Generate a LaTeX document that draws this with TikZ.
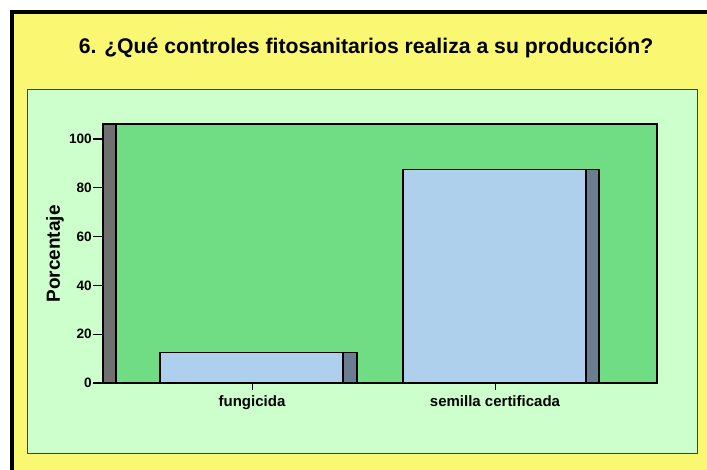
\documentclass[tikz,border=0pt]{standalone}
\usepackage{fontspec}
\setmainfont{Liberation Sans}
\definecolor{outeryellow}{RGB}{250,247,115}
\definecolor{panelgreen}{RGB}{204,255,204}
\definecolor{plotgreen}{RGB}{112,221,132}
\definecolor{barblue}{RGB}{174,208,236}
\definecolor{barside}{RGB}{107,125,145}
\definecolor{wallgrey}{RGB}{112,112,112}
\begin{document}
\begin{tikzpicture}[x=1pt,y=-1pt,
  ticklab/.style={anchor=east,font=\bfseries\fontsize{13.6}{15}\selectfont,inner sep=0pt},
  catlab/.style={anchor=north,font=\bfseries\fontsize{15}{17}\selectfont,inner sep=0pt},
  boxline/.style={draw=black,line width=1.2pt}]
\useasboundingbox (0,0) rectangle (707,470);
\fill[white] (0,0) rectangle (707,470);
\fill[black] (10,10) rectangle (707,470);
\fill[outeryellow] (14,14) rectangle (707,470);
\node[font=\bfseries\fontsize{21.2}{24}\selectfont] (title) at (366,48) {6. ¿Qué controles fitosanitarios realiza a su producción?};
\draw[fill=panelgreen,draw=black!75,line width=1pt] (27,90) rectangle (697,453);
\draw[boxline,fill=plotgreen] (103,124) rectangle (657,383);
\draw[boxline,fill=wallgrey] (103,124) rectangle (116,383);
% y ticks
\foreach \v/\yy in {0/383,20/334.2,40/285.4,60/236.6,80/187.8,100/139}{
  \draw[line width=1.2pt] (93,\yy) -- (103,\yy);
  \node[ticklab] (t\v) at (92,\yy) {\v};
}
\node[rotate=90,font=\bfseries\fontsize{19}{21}\selectfont] (ylab) at (55,254) {Porcentaje};
% bars
\draw[boxline,fill=barblue] (160,352.5) rectangle (343,383);
\draw[boxline,fill=barside] (343,352.5) rectangle (357,383);
\draw[boxline,fill=barblue] (403,169.5) rectangle (586,383);
\draw[boxline,fill=barside] (586,169.5) rectangle (599,383);
\draw[line width=1.2pt] (103,383) -- (657,383);
% category ticks
\draw[line width=1pt] (252,383) -- (252,390);
\draw[line width=1pt] (495,383) -- (495,390);
\node[catlab] (c1) at (252,395) {fungicida};
\node[catlab] (c2) at (495,395) {semilla certificada};
\end{tikzpicture}
\end{document}
